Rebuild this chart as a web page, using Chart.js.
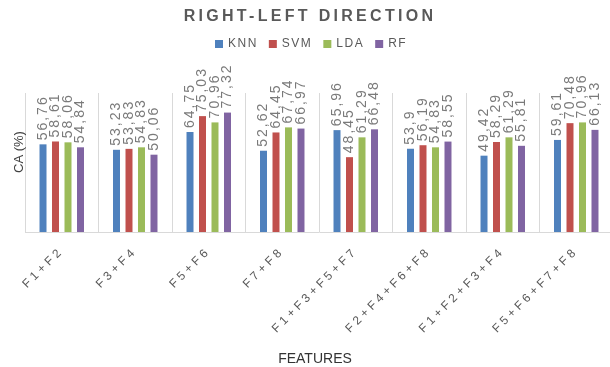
<!DOCTYPE html>
<html>
<head>
<meta charset="utf-8">
<script src="https://cdn.jsdelivr.net/npm/chart.js@4.4.1/dist/chart.umd.min.js"></script>
<style>
    html, body { margin: 0; padding: 0; background: #fff; overflow: hidden; }
    #wrap { width: 616px; height: 367px; }
</style>
</head>
<body>
<div id="wrap"><canvas id="chart" width="616" height="367"></canvas></div>
<script>
const FEATURES = ['F1+F2', 'F3+F4', 'F5+F6', 'F7+F8', 'F1+F3+F5+F7', 'F2+F4+F6+F8', 'F1+F2+F3+F4', 'F5+F6+F7+F8'];

const KNN = [56.76, 53.23, 64.75, 52.62, 65.96, 53.9, 49.42, 59.61];
const SVM = [58.61, 53.83, 75.03, 64.45, 48.45, 56.19, 58.29, 70.48];
const LDA = [58.06, 54.83, 70.96, 67.74, 61.29, 54.83, 61.29, 70.96];
const RF  = [54.84, 50.06, 77.32, 66.97, 66.48, 58.55, 55.81, 66.13];

const Y_MIN = 0;
const Y_MAX = 90;

const TITLE = 'RIGHT-LEFT DIRECTION';
const Y_TITLE = 'CA (%)';
const X_TITLE = 'FEATURES';

const COLORS = {
    KNN: '#4f81bd',
    SVM: '#c0504d',
    LDA: '#9bbb59',
    RF:  '#8064a2',
};

const FONT = '"Liberation Sans", Arial, sans-serif';

// comma as decimal mark, like the original
const fmt = v => String(v).replace('.', ',');

// rotated value labels above each bar
const valueLabels = {
    id: 'valueLabels',
    afterDatasetsDraw(chart) {
        const ctx = chart.ctx;
        chart.data.datasets.forEach((ds, i) => {
            chart.getDatasetMeta(i).data.forEach((bar, j) => {
                ctx.save();
                ctx.letterSpacing = '2px';
                ctx.font = `14px ${FONT}`;
                ctx.fillStyle = '#7a7a7a';
                ctx.textAlign = 'left';
                ctx.textBaseline = 'middle';
                ctx.translate(bar.x, bar.y - 4);
                ctx.rotate(-Math.PI / 2);
                ctx.fillText(fmt(ds.data[j]), 0, 0);
                ctx.restore();
            });
        });
    },
};

// spaced tick text, then title / legend / axis titles drawn by hand
const decorations = {
    id: 'decorations',
    beforeDraw(chart) {
        chart.ctx.letterSpacing = '3.5px';
    },
    afterDraw(chart) {
        const ctx = chart.ctx;

        ctx.save();
        ctx.letterSpacing = '3.3px';
        ctx.font = `bold 16px ${FONT}`;
        ctx.fillStyle = '#595959';
        ctx.textAlign = 'center';
        ctx.textBaseline = 'middle';
        ctx.fillText(TITLE, 310, 17);
        ctx.restore();

        // legend
        ctx.save();
        ctx.letterSpacing = '1.5px';
        ctx.font = `12px ${FONT}`;
        ctx.textBaseline = 'middle';
        ctx.textAlign = 'left';
        let x = 215;
        const y = 44;
        chart.data.datasets.forEach(ds => {
            ctx.fillStyle = ds.backgroundColor;
            ctx.fillRect(x, y - 4, 8, 8);
            x += 13;
            ctx.fillStyle = '#595959';
            ctx.fillText(ds.label, x, y);
            x += ctx.measureText(ds.label).width + 11;
        });
        ctx.restore();

        ctx.save();
        ctx.letterSpacing = '0px';
        ctx.font = `13px ${FONT}`;
        ctx.fillStyle = '#404040';
        ctx.textAlign = 'center';
        ctx.textBaseline = 'middle';
        ctx.translate(19, 152);
        ctx.rotate(-Math.PI / 2);
        ctx.fillText(Y_TITLE, 0, 0);
        ctx.restore();

        ctx.save();
        ctx.letterSpacing = '0px';
        ctx.font = `14px ${FONT}`;
        ctx.fillStyle = '#333333';
        ctx.textAlign = 'center';
        ctx.textBaseline = 'middle';
        ctx.fillText(X_TITLE, 315, 359);
        ctx.restore();

        ctx.letterSpacing = '0px';
    },
};

const series = [
    ['KNN', KNN],
    ['SVM', SVM],
    ['LDA', LDA],
    ['RF', RF],
];

new Chart(document.getElementById('chart'), {
    type: 'bar',
    data: {
        labels: FEATURES,
        datasets: series.map(([name, values]) => ({
            label: name,
            data: values,
            backgroundColor: COLORS[name],
            borderWidth: 0,
            barPercentage: 0.56,
            categoryPercentage: 0.68,
        })),
    },
    options: {
        responsive: false,
        animation: false,
        devicePixelRatio: 1,
        layout: { padding: { top: 93, left: 25, right: 3, bottom: 0 } },
        plugins: {
            legend: { display: false },
            title: { display: false },
            tooltip: { enabled: false },
        },
        scales: {
            x: {
                grid: { color: '#d9d9d9', drawTicks: false, offset: true },
                border: { color: '#d9d9d9' },
                ticks: {
                    autoSkip: false,
                    minRotation: 45,
                    maxRotation: 45,
                    padding: 12,
                    color: '#595959',
                    font: { family: FONT, size: 12 },
                },
                afterFit: s => {
                    s.height = 135;
                    s.paddingLeft = 0;
                    s.paddingRight = 0;
                },
            },
            y: {
                display: false,
                min: Y_MIN,
                max: Y_MAX,
            },
        },
    },
    plugins: [valueLabels, decorations],
});
</script>
</body>
</html>
